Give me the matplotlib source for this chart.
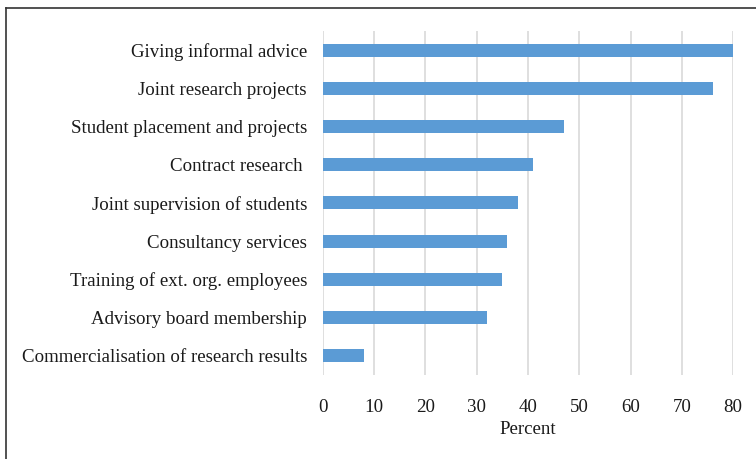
import matplotlib.pyplot as plt
from matplotlib.lines import Line2D

# Collaboration channels, listed bottom to top as drawn
channels = [
    "Commercialisation of research results",
    "Advisory board membership",
    "Training of ext. org. employees",
    "Consultancy services",
    "Joint supervision of students",
    "Contract research ",
    "Student placement and projects",
    "Joint research projects",
    "Giving informal advice",
]
percent = [8, 32, 35, 36, 38, 41, 47, 76, 80]
xticks = [0, 10, 20, 30, 40, 50, 60, 70, 80]

plt.rcParams['font.family'] = ['Liberation Serif', 'DejaVu Serif']

fig = plt.figure(figsize=(7.56, 4.59), dpi=100)
ax = fig.add_axes([0.4272, 0.183, 0.5424, 0.7495])

ax.barh(range(len(channels)), percent, height=0.34, color="#5B9BD5", zorder=3)

ax.set_xlim(0, 80)
ax.set_ylim(-0.5, len(channels) - 0.5)
ax.set_xticks(xticks)
ax.set_yticks(range(len(channels)))
ax.set_yticklabels(channels)
ax.grid(axis="x", color="#d9d9d9", linewidth=1.2, zorder=0)
ax.tick_params(axis="both", length=0, labelsize=13.6, colors="#1a1a1a")
ax.tick_params(axis="y", pad=11.5)
ax.tick_params(axis="x", pad=17)
ax.set_xlabel("Percent", fontsize=13.6, color="#1a1a1a", labelpad=4)
for s in ax.spines.values():
    s.set_visible(False)

# frame along the left and top edges
fig.add_artist(Line2D([0.0085, 0.0085], [0, 0.983], transform=fig.transFigure, color="#333333", linewidth=1.2))
fig.add_artist(Line2D([0.0085, 1], [0.983, 0.983], transform=fig.transFigure, color="#333333", linewidth=1.2))

fig.savefig("out.png", dpi=100)
